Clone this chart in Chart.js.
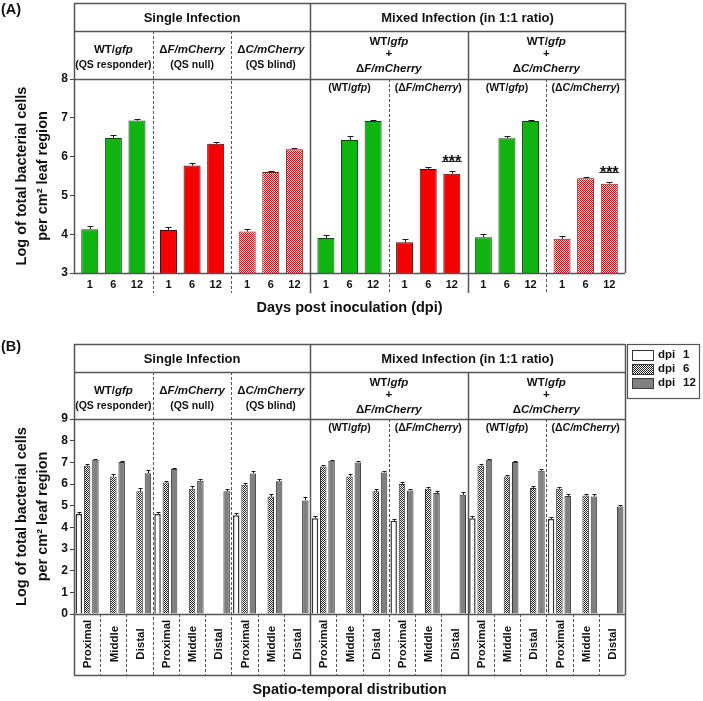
<!DOCTYPE html>
<html>
<head>
<meta charset="utf-8">
<script src="https://cdn.jsdelivr.net/npm/chart.js@4.4.1/dist/chart.umd.min.js"></script>
<style>
  html, body { margin: 0; padding: 0; background: #fff; }
  #wrap { position: relative; width: 703px; height: 701px; }
  canvas { position: absolute; left: 0; }
  #chartA { top: 0; }
  #chartB { top: 320px; }
</style>
</head>
<body>
<div id="wrap">
  <canvas id="chartA" width="703" height="320"></canvas>
  <canvas id="chartB" width="703" height="381"></canvas>
</div>
<script>
// ---- Panel A: total bacterial cells at 1, 6, 12 dpi ----
const groupsA = ["WT/gfp", "ΔF/mCherry", "ΔC/mCherry", "mix F: WT/gfp", "mix F: ΔF/mCherry", "mix C: WT/gfp", "mix C: ΔC/mCherry"];
const dpiTicks = ["1", "6", "12"];
const dpi1A  = [4.13, 4.11, 4.07, 3.90, 3.79, 3.92, 3.88];
const dpi6A  = [6.48, 5.77, 5.60, 6.43, 5.68, 6.47, 5.44];
const dpi12A = [6.93, 6.33, 6.19, 6.92, 5.56, 6.92, 5.30];
const err1A  = [0.08, 0.08, 0.06, 0.09, 0.09, 0.08, 0.08];
const err6A  = [0.07, 0.06, 0.04, 0.11, 0.06, 0.05, 0.04];
const err12A = [0.03, 0.04, 0.03, 0.03, 0.07, 0.03, 0.05];
const sigA   = [null, null, null, null, "***", null, "***"];   // marked on the 12 dpi bar

// ---- Panel B: spatio-temporal distribution ----
const locations = ["Proximal", "Middle", "Distal"];
const dpi1B  = [4.62, null, null, 4.62, null, null, 4.56, null, null, 4.42, null, null, 4.30, null, null, 4.42, null, null, 4.39, null, null];
const dpi6B  = [6.84, 6.35, 5.66, 6.07, 5.78, null, 5.96, 5.42, null, 6.81, 6.35, 5.66, 6.00, 5.78, null, 6.84, 6.35, 5.81, 5.78, 5.47, null];
const dpi12B = [7.12, 7.01, 6.50, 6.69, 6.15, 5.66, 6.49, 6.13, 5.24, 7.07, 6.99, 6.53, 5.70, 5.58, 5.50, 7.12, 7.01, 6.61, 5.45, 5.42, 4.96];
const err1B  = [0.07, 0, 0, 0.08, 0, 0, 0.09, 0, 0, 0.10, 0, 0, 0.10, 0, 0, 0.09, 0, 0, 0.10, 0, 0];
const err6B  = [0.08, 0.10, 0.15, 0.08, 0.13, 0, 0.08, 0.13, 0, 0.09, 0.10, 0.10, 0.08, 0.08, 0, 0.07, 0.08, 0.10, 0.08, 0.06, 0];
const err12B = [0.05, 0.05, 0.15, 0.07, 0.06, 0.10, 0.10, 0.10, 0.15, 0.05, 0.05, 0.07, 0.08, 0.08, 0.12, 0.05, 0.05, 0.07, 0.10, 0.10, 0.05];

// header texts (italic runs marked true)
const WT = [["WT/", false], ["gfp", true]];
const DF = [["Δ", false], ["F/mCherry", true]];
const DC = [["Δ", false], ["C/mCherry", true]];
const singleNames = [WT, DF, DC];
const singleRoles = ["(QS responder)", "(QS null)", "(QS blind)"];
const mixedPairs = [[WT, DF], [WT, DC]];
const mixedInner = [WT, DF, WT, DC];

const FAM = "'Liberation Sans', Arial, Helvetica, sans-serif";
const fnt = (size, it) => (it ? "italic " : "") + "bold " + size + "px " + FAM;

function checker(c1, c2, cell) {
    const cv = document.createElement("canvas");
    cv.width = cv.height = cell * 2;
    const g = cv.getContext("2d");
    g.fillStyle = c2; g.fillRect(0, 0, cell * 2, cell * 2);
    g.fillStyle = c1; g.fillRect(0, 0, cell, cell); g.fillRect(cell, cell, cell, cell);
    return g.createPattern(cv, "repeat");
}

const GREEN = "#10b410", RED = "#f40000", PINK = checker("#dc0a0a", "#ffffff", 1);
const fillA = [GREEN, RED, PINK, GREEN, RED, GREEN, PINK];
const edgeA = ["#174017", "#4a0000", "#7a1414", "#174017", "#4a0000", "#174017", "#7a1414"];
const DOTS = checker("#222222", "#ffffff", 1);

function drawRuns(ctx, runs, cx, cy, size) {
    let total = 0;
    runs.forEach(r => { ctx.font = fnt(size, r[1]); total += ctx.measureText(r[0]).width; });
    let x = cx - total / 2;
    ctx.textAlign = "left";
    ctx.textBaseline = "middle";
    runs.forEach(r => {
        ctx.font = fnt(size, r[1]);
        ctx.fillText(r[0], x, cy);
        x += ctx.measureText(r[0]).width;
    });
}

const px = v => Math.round(v) + 0.5;

function line(ctx, x1, y1, x2, y2, dashed) {
    ctx.save();
    ctx.setLineDash(dashed ? [3, 2] : []);
    ctx.lineWidth = dashed ? 1 : 1.5;
    ctx.strokeStyle = "#555";
    ctx.beginPath();
    ctx.moveTo(x1, y1); ctx.lineTo(x2, y2);
    ctx.stroke();
    ctx.restore();
}

function drawErrorBars(chart, cap) {
    const { ctx, scales: { y } } = chart;
    ctx.save();
    ctx.strokeStyle = "#1a1a1a";
    ctx.lineWidth = 1;
    chart.data.datasets.forEach((ds, d) => {
        chart.getDatasetMeta(d).data.forEach((bar, i) => {
            const v = ds.data[i];
            if (v == null || !ds.errors[i]) return;
            const top = px(y.getPixelForValue(v + ds.errors[i]));
            const x = px(bar.x);
            ctx.beginPath();
            ctx.moveTo(x, bar.y); ctx.lineTo(x, top);
            ctx.moveTo(x - cap, top); ctx.lineTo(x + cap, top);
            ctx.stroke();
        });
    });
    ctx.restore();
}

function drawFrame(chart, o) {
    const { ctx, chartArea: a, scales: { x, y } } = chart;
    const per = o.perGroup;
    const b = [a.left];
    for (let k = 1; k < 7; k++) b.push((x.getPixelForValue(k * per - 1) + x.getPixelForValue(k * per)) / 2);
    b.push(a.right);
    const T = o.top, r1 = T + 28;
    const floor = o.panel === "A" ? a.bottom : a.bottom + 61;
    const ext = o.panel === "A" ? a.bottom + 20 : floor;

    ctx.save();
    // horizontal rules
    [T, r1, a.top, a.bottom].forEach(yy => line(ctx, a.left, px(yy), a.right, px(yy)));
    if (o.panel === "B") line(ctx, a.left, px(floor), a.right, px(floor));
    // outer box
    line(ctx, px(a.left), T, px(a.left), floor);
    line(ctx, px(a.right), T, px(a.right), floor);
    // group separators
    line(ctx, px(b[3]), T, px(b[3]), ext);
    line(ctx, px(b[5]), r1, px(b[5]), ext);
    line(ctx, px(b[1]), r1, px(b[1]), ext, true);
    line(ctx, px(b[2]), r1, px(b[2]), ext, true);
    line(ctx, px(b[4]), a.top, px(b[4]), ext, true);
    line(ctx, px(b[6]), a.top, px(b[6]), ext, true);

    ctx.fillStyle = "#111";
    // panel letter
    ctx.font = fnt(14.5);
    ctx.textAlign = "left";
    ctx.textBaseline = "middle";
    ctx.fillText(o.panel === "A" ? "(A)" : "(B)", 1, o.letterY);

    // header row 1
    drawRuns(ctx, [["Single Infection", false]], (b[0] + b[3]) / 2, T + 15, 13);
    drawRuns(ctx, [["Mixed Infection (in 1:1 ratio)", false]], (b[3] + b[7]) / 2, T + 15, 13);
    // header row 2
    for (let g = 0; g < 3; g++) {
        const cx = (b[g] + b[g + 1]) / 2;
        drawRuns(ctx, singleNames[g], cx, T + 47, 11.5);
        drawRuns(ctx, [[singleRoles[g], false]], cx, T + 62, 10.5);
    }
    mixedPairs.forEach((pair, p) => {
        const cx = (b[3 + 2 * p] + b[5 + 2 * p]) / 2;
        drawRuns(ctx, pair[0], cx, T + 39, 11.5);
        drawRuns(ctx, [["+", false]], cx, T + 51, 11.5);
        drawRuns(ctx, pair[1], cx, T + 66, 11.5);
    });
    mixedInner.forEach((runs, k) => {
        const cx = (b[3 + k] + b[4 + k]) / 2;
        drawRuns(ctx, [["(", false]].concat(runs, [[")", false]]), cx, a.top + 9, 10.5);
    });

    if (o.panel === "A") {
        // dpi ticks under each bar
        chart.data.datasets.forEach((ds, d) => {
            chart.getDatasetMeta(d).data.forEach(bar => {
                drawRuns(ctx, [[dpiTicks[d], false]], bar.x, a.bottom + 12, 11);
            });
        });
        // significance marks
        const ds = chart.data.datasets[2];
        chart.getDatasetMeta(2).data.forEach((bar, i) => {
            if (!sigA[i]) return;
            const yy = px(y.getPixelForValue(ds.data[i] + ds.errors[i]) - 10);
            ctx.save();
            ctx.strokeStyle = "#222"; ctx.lineWidth = 1;
            ctx.beginPath(); ctx.moveTo(bar.x - 10, yy); ctx.lineTo(bar.x + 10, yy); ctx.stroke();
            ctx.restore();
            ctx.font = fnt(16);
            ctx.textAlign = "center";
            ctx.textBaseline = "alphabetic";
            ctx.fillText(sigA[i], bar.x, yy + 5);
        });
    } else {
        // location cells under the axis
        const n = x.getLabels().length;
        for (let i = 1; i < n; i++) {
            if (i % per === 0) continue;
            const bx = px((x.getPixelForValue(i - 1) + x.getPixelForValue(i)) / 2);
            line(ctx, bx, a.bottom, bx, floor, true);
        }
        x.getLabels().forEach((lab, i) => {
            ctx.save();
            ctx.translate(x.getPixelForValue(i) + 1, a.bottom + 30);
            ctx.rotate(-Math.PI / 2);
            ctx.font = fnt(11.5);
            ctx.textAlign = "center";
            ctx.textBaseline = "middle";
            ctx.fillText(lab, 0, 0);
            ctx.restore();
        });
        // legend box
        const L = { x: 627, y: 24, w: 72, h: 54 };
        ctx.save();
        ctx.strokeStyle = "#555"; ctx.lineWidth = 1.2;
        ctx.strokeRect(px(L.x), px(L.y), L.w, L.h);
        chart.data.datasets.forEach((ds, d) => {
            const cy = L.y + 11 + d * 14;
            ctx.fillStyle = ds.backgroundColor;
            ctx.fillRect(L.x + 5, cy - 5, 21, 10);
            ctx.strokeStyle = ds.borderColor; ctx.lineWidth = 1;
            ctx.strokeRect(px(L.x + 5), px(cy - 5), 21, 10);
            ctx.fillStyle = "#111";
            ctx.font = fnt(11.5);
            ctx.textAlign = "left";
            ctx.textBaseline = "middle";
            const parts = ds.label.split(" ");
            ctx.fillText(parts[0], L.x + 31, cy);
            ctx.fillText(parts[1], L.x + 56, cy);
        });
        ctx.restore();
    }
    ctx.restore();
}

const figPlugin = {
    id: "figTable",
    afterDatasetsDraw(chart, args, opts) { drawErrorBars(chart, opts.cap); },
    afterDraw(chart, args, opts) { drawFrame(chart, opts); }
};

function yAxis(min, max, padTop) {
    return {
        min: min, max: max,
        ticks: { stepSize: 1, padding: 2, color: "#111", font: { family: FAM, size: 12, weight: "bold" } },
        grid: { drawOnChartArea: false, drawTicks: true, tickLength: 4, color: "#444" },
        border: { display: false },
        title: {
            display: true,
            text: ["Log of total bacterial cells", "per cm² leaf region"],
            color: "#111",
            font: { family: FAM, size: 14.5, weight: "bold", lineHeight: 1.45 },
            padding: { top: padTop, bottom: 0 }
        },
        afterFit: s => { s.width = 74; }
    };
}

function xAxis(text, height, padBottom) {
    return {
        ticks: { display: false },
        grid: { display: false },
        border: { display: false },
        title: {
            display: true, text: text, color: "#111",
            font: { family: FAM, size: 14.5, weight: "bold", lineHeight: 1.2 },
            padding: { top: 0, bottom: padBottom }
        },
        afterFit: s => { s.height = height; }
    };
}

new Chart(document.getElementById("chartA"), {
    type: "bar",
    data: {
        labels: groupsA,
        datasets: [
            { label: "dpi 1", data: dpi1A, errors: err1A, backgroundColor: fillA, borderColor: edgeA, borderWidth: 1 },
            { label: "dpi 6", data: dpi6A, errors: err6A, backgroundColor: fillA, borderColor: edgeA, borderWidth: 1 },
            { label: "dpi 12", data: dpi12A, errors: err12A, backgroundColor: fillA, borderColor: edgeA, borderWidth: 1 }
        ]
    },
    options: {
        responsive: false,
        animation: false,
        devicePixelRatio: 1,
        layout: { padding: { left: 0, right: 78, top: 79, bottom: 0 } },
        datasets: { bar: { categoryPercentage: 0.9, barPercentage: 0.72 } },
        plugins: {
            legend: { display: false },
            tooltip: { enabled: false },
            figTable: { panel: "A", top: 3, perGroup: 1, cap: 3, letterY: 10 }
        },
        scales: {
            x: xAxis("Days post inoculation (dpi)", 47, 3.3),
            y: yAxis(3, 8, 11.5)
        }
    },
    plugins: [figPlugin]
});

new Chart(document.getElementById("chartB"), {
    type: "bar",
    data: {
        labels: Array.from({ length: 21 }, (_, i) => locations[i % 3]),
        datasets: [
            { label: "dpi 1", data: dpi1B, errors: err1B, backgroundColor: "#ffffff", borderColor: "#333", borderWidth: 1.5 },
            { label: "dpi 6", data: dpi6B, errors: err6B, backgroundColor: DOTS, borderColor: "#333", borderWidth: 1 },
            { label: "dpi 12", data: dpi12B, errors: err12B, backgroundColor: "#808080", borderColor: "#3a3a3a", borderWidth: 1 }
        ]
    },
    options: {
        responsive: false,
        animation: false,
        devicePixelRatio: 1,
        layout: { padding: { left: 0, right: 78, top: 99, bottom: 0 } },
        datasets: { bar: { categoryPercentage: 0.95, barPercentage: 0.78 } },
        plugins: {
            legend: { display: false },
            tooltip: { enabled: false },
            figTable: { panel: "B", top: 24, perGroup: 3, cap: 2, letterY: 27 }
        },
        scales: {
            x: xAxis("Spatio-temporal distribution", 87, 2.3),
            y: yAxis(0, 9, 11.5)
        }
    },
    plugins: [figPlugin]
});
</script>
</body>
</html>
